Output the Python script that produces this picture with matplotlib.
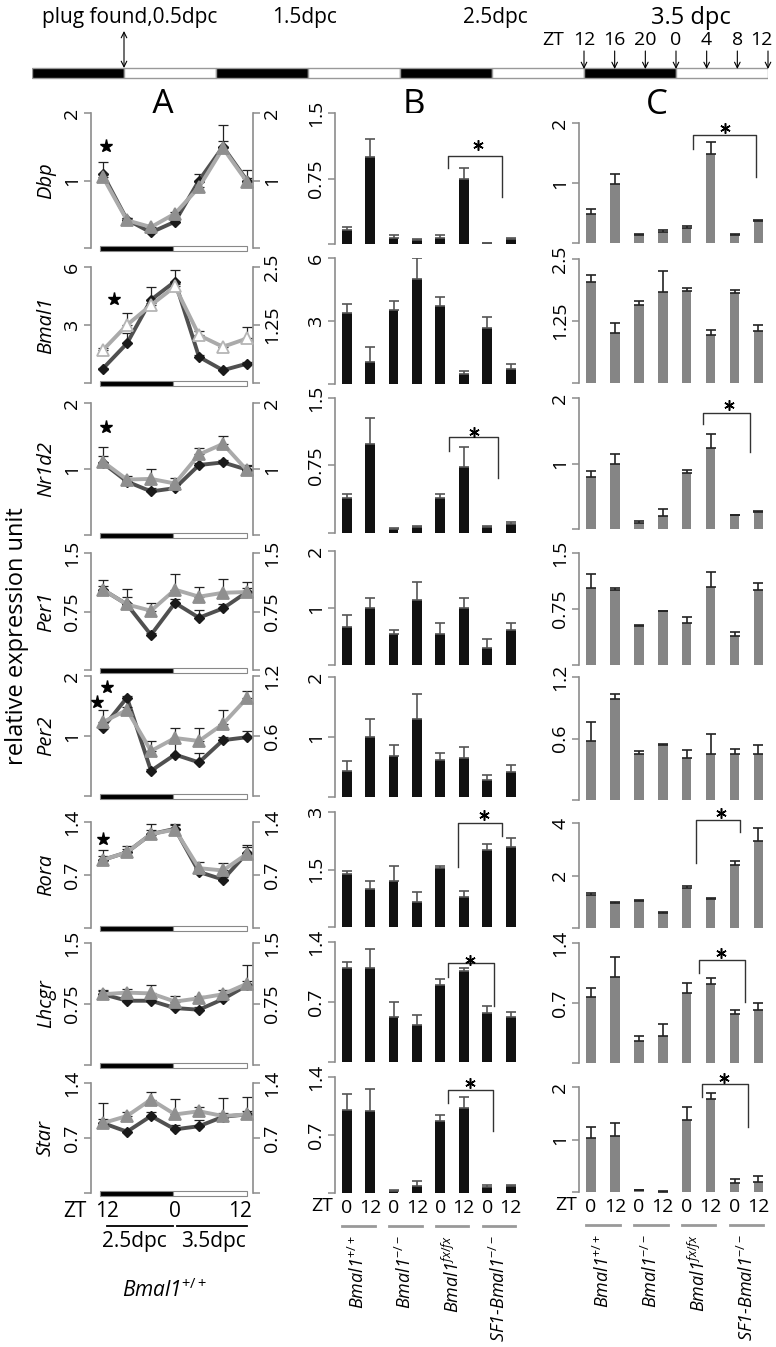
import matplotlib
matplotlib.use('Agg')
import matplotlib.pyplot as plt
import matplotlib.transforms as mtrans
from matplotlib.patches import Rectangle

plt.rcParams['font.family'] = ['Open Sans', 'DejaVu Sans']
plt.rcParams['mathtext.fontset'] = 'custom'
plt.rcParams['mathtext.rm'] = 'Open Sans'
plt.rcParams['mathtext.it'] = 'Open Sans:italic'

W, H = 776, 1347

genes = ['Dbp', 'Bmal1', 'Nr1d2', 'Per1', 'Per2', 'Rora', 'Lhcgr', 'Star']
zt_a = ['12', '16', '20', '0', '4', '8', '12']
zt_b = ['0', '12', '0', '12', '0', '12', '0', '12']
genotypes = ['Bmal1$^{+/+}$', 'Bmal1$^{-/-}$', 'Bmal1$^{fx/fx}$', 'SF1-Bmal1$^{-/-}$']

# timeline, hours from start of first dark phase
zt_marks = [72, 76, 80, 84, 88, 92, 96]
zt_mark_labels = ['12', '16', '20', '0', '4', '8', '12']
plug_hour = 12
day_labels = ['plug found,0.5dpc', '1.5dpc', '2.5dpc', '3.5 dpc']
day_hours = [12.8, 35.6, 60.5, 86]

# column A: time course, dark = left axis, light = right axis
a_dark = [[1.09, 0.42, 0.23, 0.39, 1.0, 1.5, 1.0],
          [0.75, 2.05, 4.3, 5.25, 1.35, 0.66, 1.0],
          [1.09, 0.81, 0.66, 0.71, 1.06, 1.10, 0.99],
          [1.03, 0.84, 0.45, 0.86, 0.67, 0.79, 1.0],
          [1.14, 1.64, 0.42, 0.69, 0.56, 0.93, 0.98],
          [0.90, 1.0, 1.24, 1.31, 0.74, 0.64, 0.99],
          [0.87, 0.79, 0.79, 0.70, 0.68, 0.81, 0.98],
          [0.89, 0.78, 0.98, 0.81, 0.85, 0.97, 1.0]]
a_dark_err = [[0.18, 0.03, 0.02, 0.03, 0.1, 0.32, 0.15],
              [0.05, 0.55, 0.65, 0.6, 0.1, 0.1, 0.1],
              [0.1, 0.05, 0.05, 0.04, 0.03, 0.03, 0.05],
              [0.05, 0.1, 0.02, 0.05, 0.1, 0.05, 0.05],
              [0.05, 0.03, 0.03, 0.2, 0.16, 0.05, 0.1],
              [0.05, 0.05, 0.05, 0.06, 0.04, 0.04, 0.08],
              [0.04, 0.03, 0.03, 0.03, 0.03, 0.04, 0.05],
              [0.05, 0.04, 0.05, 0.05, 0.08, 0.05, 0.05]]
a_light = [[1.05, 0.41, 0.31, 0.51, 0.9, 1.48, 0.98],
           [0.71, 1.25, 1.68, 2.08, 1.03, 0.78, 0.96],
           [1.11, 0.84, 0.85, 0.78, 1.22, 1.38, 0.98],
           [1.03, 0.84, 0.76, 1.03, 0.94, 0.99, 1.0],
           [0.74, 0.86, 0.45, 0.58, 0.55, 0.72, 0.98],
           [0.90, 1.0, 1.24, 1.30, 0.79, 0.76, 0.98],
           [0.87, 0.89, 0.88, 0.78, 0.82, 0.87, 1.0],
           [0.89, 0.98, 1.19, 1.0, 1.04, 0.98, 1.0]]
a_light_err = [[0.05, 0.03, 0.03, 0.03, 0.08, 0.1, 0.05],
               [0.05, 0.25, 0.05, 0.05, 0.08, 0.05, 0.25],
               [0.23, 0.06, 0.15, 0.08, 0.1, 0.12, 0.08],
               [0.12, 0.2, 0.1, 0.2, 0.13, 0.18, 0.13],
               [0.12, 0.03, 0.1, 0.1, 0.13, 0.14, 0.07],
               [0.13, 0.08, 0.14, 0.06, 0.08, 0.1, 0.12],
               [0.05, 0.04, 0.1, 0.07, 0.03, 0.05, 0.23],
               [0.25, 0.05, 0.09, 0.2, 0.06, 0.23, 0.22]]
a_left_top = [2, 6, 2, 1.5, 2, 1.4, 1.5, 1.4]
a_right_top = [2, 2.5, 2, 1.5, 1.2, 1.4, 1.5, 1.4]
a_stars = [[(0.12, 1.51)], [(0.46, 4.34)], [(0.12, 1.64)], [],
           [(-0.25, 1.57), (0.17, 1.82)], [(0.0, 1.18)], [], []]

# column B: black bars
b_vals = [[0.16, 1.0, 0.07, 0.05, 0.07, 0.74, 0.01, 0.06],
          [3.37, 1.05, 3.53, 5.0, 3.73, 0.49, 2.68, 0.71],
          [0.39, 0.99, 0.04, 0.07, 0.39, 0.73, 0.07, 0.1],
          [0.66, 1.0, 0.55, 1.14, 0.54, 1.0, 0.30, 0.61],
          [0.44, 1.0, 0.68, 1.3, 0.62, 0.65, 0.28, 0.41],
          [1.38, 0.98, 1.2, 0.66, 1.53, 0.77, 2.0, 2.09],
          [1.1, 1.1, 0.52, 0.43, 0.9, 1.06, 0.57, 0.53],
          [1.0, 0.99, 0.03, 0.09, 0.87, 1.03, 0.07, 0.09]]
b_err = [[0.04, 0.2, 0.03, 0.01, 0.03, 0.13, 0.005, 0.01],
         [0.46, 0.7, 0.42, 1.0, 0.39, 0.12, 0.5, 0.25],
         [0.04, 0.29, 0.01, 0.01, 0.04, 0.23, 0.01, 0.02],
         [0.22, 0.18, 0.06, 0.32, 0.19, 0.18, 0.15, 0.12],
         [0.16, 0.3, 0.19, 0.42, 0.12, 0.19, 0.09, 0.12],
         [0.09, 0.22, 0.4, 0.25, 0.07, 0.16, 0.17, 0.24],
         [0.07, 0.22, 0.18, 0.12, 0.07, 0.04, 0.08, 0.05],
         [0.2, 0.27, 0.01, 0.06, 0.07, 0.13, 0.03, 0.01]]
b_top = [1.5, 6, 1.5, 2, 2, 3, 1.4, 1.4]
# significance brackets: x left, x right, y top, y left end, y right end, star x, star y
b_sig = [(4.32, 6.62, 1.01, 0.87, 0.54, 5.6, 1.13), None,
         (4.36, 6.45, 1.07, 0.91, 0.61, 5.43, 1.12), None, None,
         (4.74, 6.62, 2.71, 1.57, 2.37, 5.85, 2.92),
         (4.32, 6.28, 1.16, 0.99, 0.65, 5.26, 1.19),
         (4.32, 6.24, 1.24, 1.09, 0.75, 5.26, 1.33)]

# column C: grey bars
c_vals = [[0.48, 0.98, 0.14, 0.19, 0.25, 1.48, 0.13, 0.36],
          [2.04, 1.0, 1.57, 1.83, 1.85, 0.96, 1.81, 1.05],
          [0.8, 1.0, 0.09, 0.2, 0.86, 1.23, 0.21, 0.26],
          [1.03, 1.0, 0.52, 0.72, 0.56, 1.04, 0.39, 1.01],
          [0.58, 0.99, 0.45, 0.54, 0.41, 0.45, 0.45, 0.45],
          [1.26, 0.97, 1.03, 0.59, 1.52, 1.11, 2.41, 3.3],
          [0.77, 1.0, 0.26, 0.32, 0.82, 0.92, 0.57, 0.62],
          [1.02, 1.07, 0.03, 0.005, 1.38, 1.78, 0.17, 0.19]]
c_err = [[0.09, 0.17, 0.01, 0.02, 0.04, 0.21, 0.02, 0.02],
         [0.14, 0.2, 0.09, 0.42, 0.07, 0.1, 0.07, 0.12],
         [0.08, 0.15, 0.03, 0.1, 0.04, 0.22, 0.01, 0.01],
         [0.19, 0.03, 0.01, 0.005, 0.08, 0.2, 0.05, 0.09],
         [0.18, 0.04, 0.03, 0.005, 0.08, 0.19, 0.05, 0.09],
         [0.06, 0.03, 0.02, 0.02, 0.09, 0.02, 0.15, 0.51],
         [0.1, 0.24, 0.06, 0.13, 0.11, 0.07, 0.05, 0.08],
         [0.22, 0.25, 0.01, 0.005, 0.24, 0.1, 0.07, 0.11]]
c_top = [2, 2.5, 2, 1.5, 1.2, 4, 1.4, 2]
c_sig = [(4.27, 6.9, 1.8, 1.57, 1.1, 5.6, 1.92), None,
         (4.69, 6.65, 1.77, 1.6, 1.18, 5.77, 1.89), None, None,
         (4.39, 6.23, 4.11, 2.48, 3.66, 5.44, 4.4),
         (4.52, 6.44, 1.2, 1.05, 0.71, 5.44, 1.28),
         (4.64, 6.57, 2.06, 1.81, 1.24, 5.56, 2.17)]

# layout in pixels
a_x = (91, 253)
b_x = (335, 520)
c_x = (579, 768)
a_rows = [(113, 248), (267, 383), (403, 535), (553, 670), (676, 796), (822, 928), (943, 1065), (1083, 1193)]
b_rows = [(113, 244), (258, 384), (398, 533), (551, 665), (677, 797), (812, 927), (942, 1062), (1077, 1193)]
c_rows = [(123, 243), (259, 383), (398, 529), (553, 665), (677, 800), (823, 928), (943, 1063), (1087, 1192)]

SPINE = '#8c8c8c'
TICKFS = 14

fig = plt.figure(figsize=(W / 100, H / 100), dpi=100)


def px_axes(xs, ys):
    x0, x1 = xs
    y0, y1 = ys
    return fig.add_axes([x0 / W, 1 - y1 / H, (x1 - x0) / W, (y1 - y0) / H])


def style(ax, side, top):
    for s in ax.spines:
        ax.spines[s].set_visible(s == side)
    ax.spines[side].set_color(SPINE)
    ax.spines[side].set_linewidth(1.2)
    ax.set_ylim(0, top)
    ax.set_yticks([0, top / 2, top], ['', '%g' % (top / 2), '%g' % top],
                  rotation=90, va='center')
    ax.tick_params(axis='y', direction='out', length=5, width=1.1,
                   color=SPINE, labelsize=TICKFS, pad=2)
    ax.tick_params(axis='x', bottom=False, labelbottom=False)


ov = fig.add_axes([0, 0, 1, 1], zorder=-5)
ov.set_xlim(0, W)
ov.set_ylim(H, 0)
ov.axis('off')

# timeline
ax_t = px_axes((32, 768), (0, 90))
ax_t.set_xlim(0, 96)
ax_t.set_ylim(90, 0)
ax_t.axis('off')
for i in range(8):
    ax_t.add_patch(Rectangle((i * 12, 68), 12, 10, fc='k' if i % 2 == 0 else 'w',
                             ec='#999999', lw=1))
for h, lab in zip(zt_marks, zt_mark_labels):
    ax_t.annotate('', xy=(h, 69), xytext=(h, 51),
                  arrowprops=dict(arrowstyle='->', color='k', lw=0.8,
                                  shrinkA=0, shrinkB=0))
    ax_t.text(min(h, 95.2), 40, lab, ha='center', va='center', fontsize=14)
ax_t.text(zt_marks[0] - 4.0, 40, 'ZT', ha='center', va='center', fontsize=14)
ax_t.annotate('', xy=(plug_hour, 68), xytext=(plug_hour, 31),
              arrowprops=dict(arrowstyle='<->', color='k', lw=0.8,
                              shrinkA=0, shrinkB=0))
for i, (lab, h) in enumerate(zip(day_labels, day_hours)):
    ax_t.text(h, 18, lab, ha='center', va='center', fontsize=17 if i == 3 else 15)

# column letters and shared labels
for lab, x in zip(['A', 'B', 'C'], [163, 414, 657]):
    ov.text(x, 105, lab, ha='center', va='center', fontsize=25)
ov.text(17, 636, 'relative expression unit', rotation=90, ha='center', va='center',
        fontsize=17)

xs_a = list(range(7))
xs_b = list(range(8))

for g in range(8):
    y0, y1 = a_rows[g]
    hpx = y1 - y0
    ov.text(46, (y0 + y1) / 2, genes[g], rotation=90, ha='center', va='center',
            fontsize=14.5, style='italic')

    # ---- column A
    ax = px_axes(a_x, a_rows[g])
    ax.set_xlim(-0.5, 6.25)
    style(ax, 'left', a_left_top[g])
    ax2 = ax.twinx()
    ax2.set_xlim(-0.5, 6.25)
    style(ax2, 'right', a_right_top[g])
    ax.errorbar(xs_a, a_dark[g], yerr=[[0] * 7, a_dark_err[g]], fmt='none',
                ecolor='#222222', elinewidth=0.9, capsize=3.5, capthick=0.9, zorder=2)
    ax.plot(xs_a, a_dark[g], color='#505050', lw=2.8, marker='D', ms=5.5,
            mfc='#1a1a1a', mec='#1a1a1a', zorder=3)
    ax2.errorbar(xs_a, a_light[g], yerr=[[0] * 7, a_light_err[g]], fmt='none',
                 ecolor='#222222', elinewidth=0.9, capsize=3.5, capthick=0.9, zorder=2)
    open_tri = genes[g] == 'Bmal1'
    ax2.plot(xs_a, a_light[g], color='#aaaaaa', lw=2.8, marker='^', ms=8,
             mfc='white' if open_tri else '#8f8f8f',
             mec='#b5b5b5' if open_tri else '#8f8f8f', mew=1.3, zorder=3)
    for sx, sy in a_stars[g]:
        ax.plot(sx, sy, marker='*', ms=9.5, color='k', clip_on=False, zorder=6)
    trans = mtrans.blended_transform_factory(ax2.transData, ax2.transAxes)
    bh = 5 / hpx
    ax2.add_patch(Rectangle((-0.12, -bh / 2), 3.02, bh, transform=trans, fc='k',
                            ec='#888888', lw=0.8, clip_on=False, zorder=5))
    ax2.add_patch(Rectangle((2.9, -bh / 2), 3.1, bh, transform=trans, fc='w',
                            ec='#888888', lw=0.8, clip_on=False, zorder=5))
    if g == 7:
        for x, lab in zip([0.15, 3, 5.7], [zt_a[0], zt_a[3], zt_a[6]]):
            ax.annotate(lab, xy=(x, 0), xycoords=('data', 'axes fraction'),
                        xytext=(0, -13), textcoords='offset points',
                        ha='center', va='center', fontsize=15)
        ax.annotate('ZT', xy=(0, 0), xycoords=('data', 'axes fraction'),
                    xytext=(-20, -13), textcoords='offset points',
                    ha='center', va='center', fontsize=15)
        tr = mtrans.blended_transform_factory(ax.transData, ax.transAxes)
        for xa, xb in [(0.17, 2.92), (3.1, 6.0)]:
            ax.plot([xa, xb], [-33 / hpx] * 2, color='k', lw=1.3, transform=tr,
                    clip_on=False)
        for x, lab in [(1.3, '2.5dpc'), (4.6, '3.5dpc')]:
            ax.text(x, -49 / hpx, lab, transform=tr, ha='center', va='center',
                    fontsize=15)
        ax.text(2.55, -97 / hpx, genotypes[0], transform=tr, ha='center',
                va='center', fontsize=15, style='italic')

    # ---- columns B and C
    for xs_px, rows, vals, errs, tops, sigs, col, ecol, width in [
            (b_x, b_rows, b_vals, b_err, b_top, b_sig, '#111111', '#555555', 0.42),
            (c_x, c_rows, c_vals, c_err, c_top, c_sig, '#858585', '#222222', 0.4)]:
        bx = px_axes(xs_px, rows[g])
        bx.set_xlim(-0.5, 7.4)
        style(bx, 'left', tops[g])
        bx.bar(xs_b, vals[g], width=width, color=col, zorder=2)
        bx.errorbar(xs_b, vals[g], yerr=[[0] * 8, errs[g]], fmt='none', ecolor=ecol,
                    elinewidth=1.2, capsize=3.5, capthick=1.2, zorder=3)
        s = sigs[g]
        if s is not None:
            xl, xr, yt, yl, yr, sx, sy = s
            bx.plot([xl, xl, xr, xr], [yl, yt, yt, yr], color='#333333', lw=1,
                    clip_on=False, zorder=4)
            bx.plot(sx, sy, marker=(6, 2, 0), ms=7.5, mew=1.1, color='k',
                    clip_on=False, zorder=5)
        if g == 7:
            bhpx = rows[g][1] - rows[g][0]
            bx.set_xticks(xs_b, zt_b)
            bx.tick_params(axis='x', bottom=False, labelbottom=True, labelsize=14, pad=1)
            bx.annotate('ZT', xy=(0, 0), xycoords=('data', 'axes fraction'),
                        xytext=(-18, -9.5), textcoords='offset points',
                        ha='center', va='center', fontsize=14)
            tr = mtrans.blended_transform_factory(bx.transData, bx.transAxes)
            for k in range(4):
                bx.plot([2 * k - 0.2, 2 * k + 1.2], [-33 / bhpx] * 2, color='#999999',
                        lw=2, transform=tr, clip_on=False)
                bx.text(2 * k + 0.5, -42 / bhpx, genotypes[k], transform=tr,
                        rotation=90, ha='center', va='top', fontsize=13,
                        style='italic')

fig.savefig('out.png', dpi=100)
